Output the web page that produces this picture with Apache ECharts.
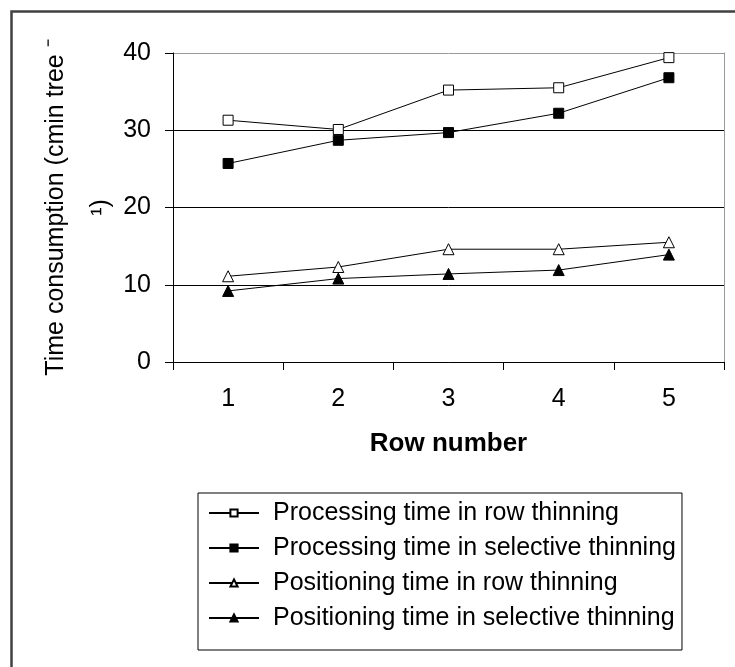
<!DOCTYPE html>
<html>
<head>
<meta charset="utf-8">
<script src="https://cdn.jsdelivr.net/npm/echarts@6/dist/echarts.min.js"></script>
<style>html,body{margin:0;padding:0;background:#fff}#c{width:735px;height:667px}</style>
</head>
<body>
<div id="c"></div>
<script>
var categories = ['1', '2', '3', '4', '5'];
var procRow = [31.3, 30.1, 35.2, 35.5, 39.4];
var procSel = [25.7, 28.7, 29.7, 32.2, 36.8];
var posRow = [11.1, 12.3, 14.6, 14.6, 15.5];
var posSel = [9.2, 10.8, 11.4, 11.9, 13.9];
var seriesNames = ['Processing time in row thinning', 'Processing time in selective thinning', 'Positioning time in row thinning', 'Positioning time in selective thinning'];
var yTicks = [0, 10, 20, 30, 40];

var chart = echarts.init(document.getElementById('c'));
function mk(name, data, symbol, fill, size) {
  return {
    name: name, type: 'line', data: data, symbol: symbol, symbolSize: size,
    showAllSymbol: true,
    lineStyle: { color: '#000', width: 1 },
    itemStyle: { color: fill, borderColor: '#000', borderWidth: 1 },
    emphasis: { disabled: true }, animation: false
  };
}
var font = 'Liberation Sans, Arial, sans-serif';
chart.setOption({
  animation: false,
  backgroundColor: '#fff',
  graphic: [{
    type: 'rect', shape: { x: 11.5, y: 11.5, width: 740, height: 670 },
    style: { fill: 'none', stroke: '#404040', lineWidth: 2.5 }, silent: true
  }],
  grid: { left: 173, top: 53, right: 11, bottom: 305 },
  xAxis: {
    type: 'category', data: categories, boundaryGap: true,
    axisLine: { lineStyle: { color: '#000', width: 1 } },
    axisTick: { show: true, inside: false, length: 8, lineStyle: { color: '#000' } },
    axisLabel: { color: '#000', fontSize: 25, fontFamily: font, margin: 25 },
    name: 'Row number', nameLocation: 'middle', nameGap: 69, nameMoveOverlap: false,
    nameTextStyle: { color: '#000', fontSize: 26, fontWeight: 'bold', fontFamily: font }
  },
  yAxis: [{
    type: 'value', min: 0, max: 40, interval: 10,
    axisLine: { show: true, lineStyle: { color: '#000', width: 1 } },
    axisTick: { show: true, length: 8, lineStyle: { color: '#000' } },
    axisLabel: { color: '#000', fontSize: 25, fontFamily: font, margin: 22,
      formatter: function (v) { return yTicks.indexOf(v) >= 0 ? String(v) : ''; } },
    splitLine: { show: true, lineStyle: { color: ['#000', '#000', '#000', '#000', '#999'], width: 1 } },
    name: 'Time consumption (cmin tree \u207B\n\u00B9)', nameLocation: 'middle', nameGap: 49, nameRotate: 90,
    nameMoveOverlap: false,
    nameTextStyle: { color: '#000', fontSize: 25, fontFamily: font, lineHeight: 45 }
  }, {
    type: 'value', min: 0, max: 40, interval: 10, position: 'right',
    axisLine: { show: true, lineStyle: { color: '#999', width: 1 } },
    axisTick: { show: false }, axisLabel: { show: false }, splitLine: { show: false }
  }],
  legend: {
    orient: 'vertical', left: 198, top: 493,
    borderColor: '#000', borderWidth: 1, padding: [7, 6, 19, 10],
    itemWidth: 50, itemHeight: 9, itemGap: 9,
    textStyle: { color: '#000', fontSize: 25, fontFamily: font, lineHeight: 26, padding: [0, 0, 0, 9] },
    data: seriesNames
  },
  series: [
    mk(seriesNames[0], procRow, 'rect', '#fff', 10),
    mk(seriesNames[1], procSel, 'rect', '#000', 10),
    mk(seriesNames[2], posRow, 'triangle', '#fff', 11),
    mk(seriesNames[3], posSel, 'triangle', '#000', 11)
  ]
});
</script>
</body>
</html>
